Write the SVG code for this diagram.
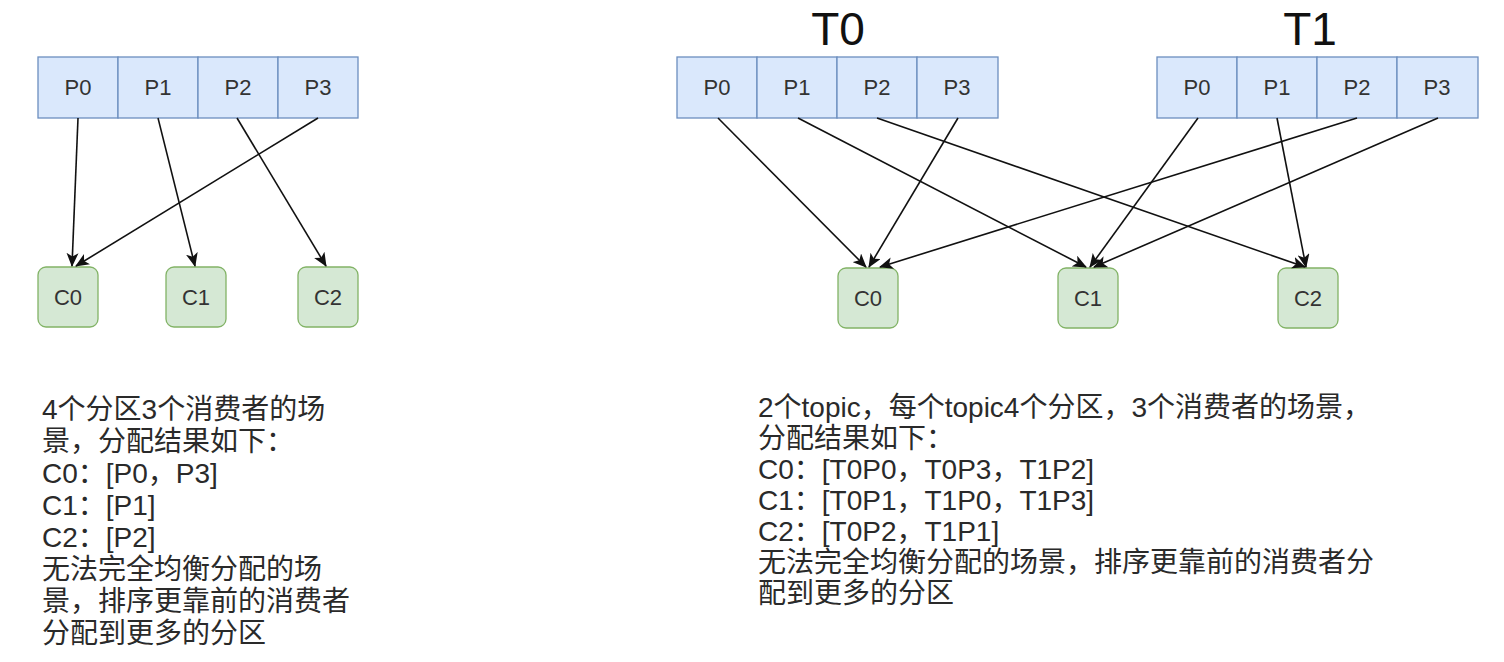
<svg xmlns="http://www.w3.org/2000/svg" width="1504" height="662" viewBox="0 0 1504 662">
<defs>
<style>
.p rect{fill:#dae8fc;stroke:#6c8ebf;stroke-width:1.3}
.c rect{fill:#d5e8d4;stroke:#82b366;stroke-width:1.3}
.lbl{font-family:"Liberation Sans",Arial,sans-serif;font-size:22px;fill:#333;text-anchor:middle}
.title{font-family:"Liberation Sans",Arial,sans-serif;font-size:46px;fill:#111;text-anchor:middle}
.note{font-family:"Liberation Sans","Noto Sans CJK SC",sans-serif;font-size:28px;fill:#2a2a2a}
.edges line{stroke:#111;stroke-width:1.6;fill:none;marker-end:url(#arr)}
</style>
<marker id="arr" viewBox="0 0 14 12" refX="13" refY="6" markerWidth="14" markerHeight="12" markerUnits="userSpaceOnUse" orient="auto">
<path d="M0,0 L14,6 L0,12 L3.5,6 z" fill="#111"/>
</marker>
</defs>
<rect width="1504" height="662" fill="#fff"/>

<!-- Left diagram -->
<g id="L-P0" class="p"><rect x="38" y="57" width="80" height="61"/><text class="lbl" x="78" y="95">P0</text></g>
<g id="L-P1" class="p"><rect x="118" y="57" width="80" height="61"/><text class="lbl" x="158" y="95">P1</text></g>
<g id="L-P2" class="p"><rect x="198" y="57" width="80" height="61"/><text class="lbl" x="238" y="95">P2</text></g>
<g id="L-P3" class="p"><rect x="278" y="57" width="80" height="61"/><text class="lbl" x="318" y="95">P3</text></g>

<g id="L-C0" class="c"><rect x="38" y="267" width="60" height="60" rx="8"/><text class="lbl" x="68" y="305">C0</text></g>
<g id="L-C1" class="c"><rect x="166" y="267" width="60" height="60" rx="8"/><text class="lbl" x="196" y="305">C1</text></g>
<g id="L-C2" class="c"><rect x="298" y="267" width="60" height="60" rx="8"/><text class="lbl" x="328" y="305">C2</text></g>

<!-- Right diagram -->
<g id="T0-title"><text class="title" x="838" y="45">T0</text></g>
<g id="T1-title"><text class="title" x="1310" y="45">T1</text></g>

<g id="T0-P0" class="p"><rect x="677" y="57" width="80" height="61"/><text class="lbl" x="717" y="95">P0</text></g>
<g id="T0-P1" class="p"><rect x="757" y="57" width="80" height="61"/><text class="lbl" x="797" y="95">P1</text></g>
<g id="T0-P2" class="p"><rect x="837" y="57" width="80" height="61"/><text class="lbl" x="877" y="95">P2</text></g>
<g id="T0-P3" class="p"><rect x="917" y="57" width="81" height="61"/><text class="lbl" x="957" y="95">P3</text></g>

<g id="T1-P0" class="p"><rect x="1157" y="57" width="80" height="61"/><text class="lbl" x="1197" y="95">P0</text></g>
<g id="T1-P1" class="p"><rect x="1237" y="57" width="80" height="61"/><text class="lbl" x="1277" y="95">P1</text></g>
<g id="T1-P2" class="p"><rect x="1317" y="57" width="80" height="61"/><text class="lbl" x="1357" y="95">P2</text></g>
<g id="T1-P3" class="p"><rect x="1397" y="57" width="81" height="61"/><text class="lbl" x="1437" y="95">P3</text></g>

<g id="R-C0" class="c"><rect x="838" y="268" width="60" height="60" rx="8"/><text class="lbl" x="868" y="306">C0</text></g>
<g id="R-C1" class="c"><rect x="1058" y="268" width="60" height="60" rx="8"/><text class="lbl" x="1088" y="306">C1</text></g>
<g id="R-C2" class="c"><rect x="1278" y="268" width="60" height="60" rx="8"/><text class="lbl" x="1308" y="306">C2</text></g>

<g id="connectors" class="edges">
<line x1="78" y1="118" x2="72" y2="266"/>
<line x1="158" y1="118" x2="195" y2="266"/>
<line x1="237" y1="118" x2="326" y2="266"/>
<line x1="318" y1="118" x2="76" y2="266"/>

<line x1="718" y1="118" x2="866" y2="267"/>
<line x1="798" y1="118" x2="1086" y2="267"/>
<line x1="877" y1="118" x2="1305" y2="267"/>
<line x1="958" y1="118" x2="869" y2="267"/>
<line x1="1198" y1="118" x2="1090" y2="267"/>
<line x1="1277" y1="118" x2="1306" y2="267"/>
<line x1="1357" y1="118" x2="880" y2="267"/>
<line x1="1438" y1="118" x2="1094" y2="267"/>
</g>

<g id="note-left" class="note">
<text x="42" y="419">4个分区3个消费者的场</text>
<text x="42" y="451">景，分配结果如下：</text>
<text x="42" y="483">C0：[P0，P3]</text>
<text x="42" y="515">C1：[P1]</text>
<text x="42" y="547">C2：[P2]</text>
<text x="42" y="579">无法完全均衡分配的场</text>
<text x="42" y="611">景，排序更靠前的消费者</text>
<text x="42" y="643">分配到更多的分区</text>
</g>

<g id="note-right" class="note">
<text x="758" y="417">2个topic，每个topic4个分区，3个消费者的场景，</text>
<text x="758" y="448">分配结果如下：</text>
<text x="758" y="479">C0：[T0P0，T0P3，T1P2]</text>
<text x="758" y="510">C1：[T0P1，T1P0，T1P3]</text>
<text x="758" y="541">C2：[T0P2，T1P1]</text>
<text x="758" y="572">无法完全均衡分配的场景，排序更靠前的消费者分</text>
<text x="758" y="603">配到更多的分区</text>
</g>
</svg>
